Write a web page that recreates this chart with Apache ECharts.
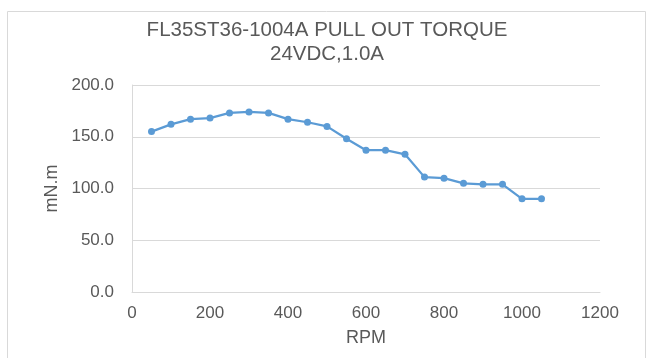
<!DOCTYPE html>
<html>
<head>
<meta charset="utf-8">
<script src="https://cdn.jsdelivr.net/npm/echarts@6/dist/echarts.min.js"></script>
<style>
html,body{margin:0;padding:0;background:#fff;}
#c{width:654px;height:358px;}
</style>
</head>
<body>
<div id="c"></div>
<script>
var titleLines = ['FL35ST36-1004A PULL OUT TORQUE', '24VDC,1.0A'];
var xName = 'RPM';
var yName = 'mN.m';
var rpm = [50, 100, 150, 200, 250, 300, 350, 400, 450, 500, 550, 600, 650, 700, 750, 800, 850, 900, 950, 1000, 1050];
var torque = [155, 162, 167, 168, 173, 174, 173, 167, 164, 160, 148, 137, 137, 133, 111, 110, 105, 104, 104, 90, 90];

var pts = rpm.map(function (r, i) { return [r, torque[i]]; });
var chart = echarts.init(document.getElementById('c'));
var txt = '#595959';
chart.setOption({
  animation: false,
  graphic: [{
    type: 'rect', left: 5, top: 9,
    shape: { width: 638, height: 360 },
    style: { fill: 'none', stroke: '#D9D9D9', lineWidth: 1 }
  }],
  title: {
    text: titleLines.join('\n'),
    left: 'center', top: 14,
    padding: [5, 5, 5, 13],
    textStyle: { fontFamily: 'Liberation Sans, Arial', fontSize: 20.5, fontWeight: 'normal', color: txt, lineHeight: 23.5, align: 'center' }
  },
  grid: { left: 132, right: 54, top: 85, bottom: 66 },
  xAxis: {
    type: 'value', min: 0, max: 1200, interval: 200,
    name: xName, nameLocation: 'middle', nameGap: 37,
    nameTextStyle: { fontFamily: 'Liberation Sans, Arial', fontSize: 18, color: txt },
    axisLine: { show: true, lineStyle: { color: '#D9D9D9', width: 1 } },
    axisTick: { show: false },
    splitLine: { show: false },
    axisLabel: { margin: 13, fontFamily: 'Liberation Sans, Arial', fontSize: 17, color: txt,
      formatter: function (v) { return String(v); } }
  },
  yAxis: {
    type: 'value', min: 0, max: 200, interval: 50,
    name: yName, nameLocation: 'middle', nameGap: 62, nameRotate: 90,
    nameTextStyle: { fontFamily: 'Liberation Sans, Arial', fontSize: 18, color: txt },
    axisLine: { show: true, lineStyle: { color: '#D9D9D9', width: 1 } },
    axisTick: { show: false },
    splitLine: { show: true, lineStyle: { color: '#D9D9D9', width: 1 } },
    axisLabel: { margin: 18, fontFamily: 'Liberation Sans, Arial', fontSize: 17, color: txt,
      formatter: function (v) { return v.toFixed(1); } }
  },
  series: [{
    type: 'line', data: pts,
    symbol: 'circle', symbolSize: 7,
    itemStyle: { color: '#5B9BD5' },
    lineStyle: { color: '#5B9BD5', width: 2.25 }
  }]
});
</script>
</body>
</html>
